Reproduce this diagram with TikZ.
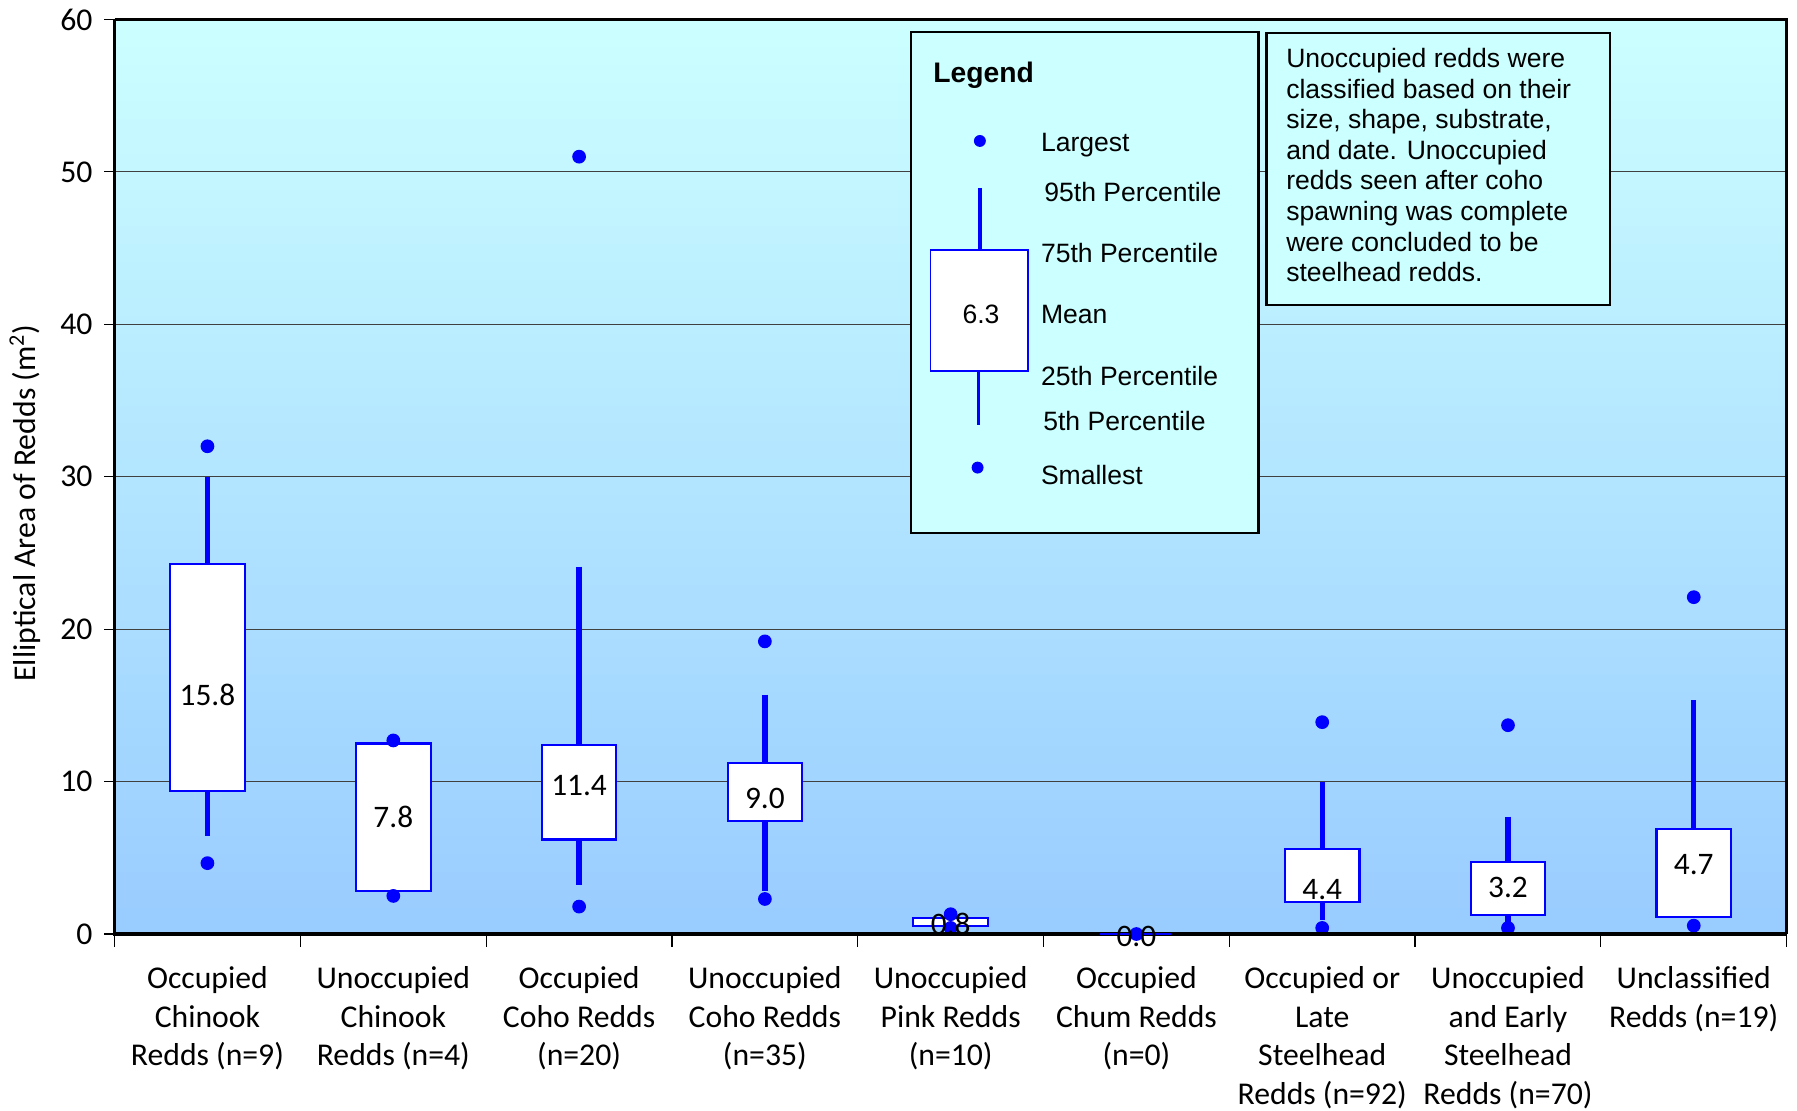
\documentclass[tikz,border=0pt]{standalone}
\usepackage{fontspec}
\setmainfont{Carlito}
\newfontfamily\arialf{Liberation Sans}
\definecolor{bgtop}{HTML}{CCFFFF}
\definecolor{bgbot}{HTML}{99CCFF}
\definecolor{pblue}{HTML}{0000FF}
\newcommand\bplot[8]{%
  \coordinate (#1-hi) at (#2,{815-13.3*#4});
  \coordinate (#1-top) at (#2,{815-13.3*#5});
  \coordinate (#1-bot) at (#2,{815-13.3*#6});
  \coordinate (#1-lo) at (#2,{815-13.3*#7});
  \draw[whisk] (#1-hi) -- (#1-top);
  \draw[whisk] (#1-bot) -- (#1-lo);
  \draw[qbox] ({#2-32.5},{815-13.3*#5}) rectangle ({#2+32.5},{815-13.3*#6});
  \fill[pblue] (#2,{815-13.3*#3}) circle[radius=6];
  \fill[pblue] (#2,{815-13.3*#8}) circle[radius=6];
}
\begin{document}
\begin{tikzpicture}[x=0.6pt,y=-0.6pt,
  whisk/.style={draw=pblue,line width=2.8pt},
  qbox/.style={draw=pblue,line width=1.1pt,fill=white},
  gridln/.style={draw=black!75,line width=0.6pt},
  tickln/.style={draw=black,line width=0.6pt},
  axlab/.style={font=\fontsize{16.6}{20.2}\selectfont,inner sep=0pt},
  catlab/.style={font=\fontsize{16.6}{20.2}\selectfont,align=center,anchor=north,inner sep=0pt},
  vallab/.style={font=\fontsize{16.4}{20}\selectfont,inner sep=0pt},
  legtxt/.style={font=\arialf\fontsize{13.9}{16}\selectfont,anchor=base west,inner sep=0pt}]
\useasboundingbox (0,0) rectangle (1568,969);
% plot background
\shade[top color=bgtop,bottom color=bgbot] (100,17) rectangle (1559,815);
% grid lines and y ticks
\foreach \v in {10,20,30,40,50} {
  \draw[gridln] (100,{815-13.3*\v}) -- (1559,{815-13.3*\v});
}
\foreach \v in {0,10,20,30,40,50,60} {
  \draw[tickln] (91,{815-13.3*\v}) -- (100,{815-13.3*\v});
  \node[axlab,anchor=east] (yt\v) at (81,{815-13.3*\v}) {\v};
}
% x ticks
\foreach \k in {0,...,9} {
  \draw[tickln] ({100+162.1*\k},815) -- ({100+162.1*\k},826);
}
% legend box
\draw[black,line width=1.2pt,fill=bgtop] (795,28) rectangle (1098,465);
\node[font=\arialf\bfseries\fontsize{14.8}{17}\selectfont,anchor=base west,inner sep=0pt] (legtitle) at (814,72) {Legend};
\fill[pblue] (855,123) circle[radius=5.2];
\coordinate (lw1) at (855,164);
\coordinate (lw2) at (855,218);
\draw[draw=pblue,line width=1.7pt] (lw1) -- (lw2);
\draw[draw=pblue,line width=0.9pt,fill=white] (812,218) rectangle (897,324);
\node[font=\arialf\fontsize{13.9}{16}\selectfont,inner sep=0pt] (legmean) at (856,274) {6.3};
\coordinate (lw3) at (854,324);
\coordinate (lw4) at (854,371);
\draw[draw=pblue,line width=1.7pt] (lw3) -- (lw4);
\fill[pblue] (853,408) circle[radius=5.2];
\node[legtxt] (l1) at (908,132) {Largest};
\node[legtxt] (l2) at (911,176) {95th Percentile};
\node[legtxt] (l3) at (908,229) {75th Percentile};
\node[legtxt] (l4) at (908,282) {Mean};
\node[legtxt] (l5) at (908,336) {25th Percentile};
\node[legtxt] (l6) at (910,376) {5th Percentile};
\node[legtxt] (l7) at (908,423) {Smallest};
% note box
\draw[black,line width=1.2pt,fill=bgtop] (1105,29) rectangle (1405,266);
\node[font=\arialf\fontsize{13.9}{16}\selectfont,align=left,anchor=north west,inner sep=0pt] (note) at (1122,42)
  {Unoccupied redds were\\classified based on their\\size, shape, substrate,\\and date. Unoccupied\\redds seen after coho\\spawning was complete\\were concluded to be\\steelhead redds.};
% box plots
\bplot{c1}{181}{32.0}{30.0}{24.3}{9.4}{6.4}{4.65}
\bplot{c2}{343.2}{12.7}{12.5}{12.5}{2.85}{2.85}{2.5}
\bplot{c3}{505.3}{51.0}{24.1}{12.4}{6.2}{3.2}{1.8}
\bplot{c4}{667.4}{19.2}{15.7}{11.2}{7.4}{2.8}{2.3}
\bplot{c5}{829.5}{1.3}{1.05}{1.05}{0.55}{0.55}{0.4}
\bplot{c7}{1153.7}{13.9}{10.0}{5.6}{2.1}{0.9}{0.4}
\bplot{c8}{1315.8}{13.7}{7.7}{4.7}{1.25}{0.8}{0.4}
\bplot{c9}{1477.9}{22.1}{15.35}{6.9}{1.1}{1.1}{0.55}
% value labels
\node[vallab] (m1) at (181,606) {15.8};
\node[vallab] (m2) at (343.2,713) {7.8};
\node[vallab] (m3) at (505.3,685) {11.4};
\node[vallab] (m4) at (667.4,697) {9.0};
\node[vallab] (m5) at (829.5,806) {0.8};
\node[vallab] (m7) at (1153.7,776) {4.4};
\node[vallab] (m8) at (1315.8,774) {3.2};
\node[vallab] (m9) at (1477.9,754) {4.7};
% frame
\draw[black,line width=1.3pt] (100,17) -- (1559,17) -- (1559,815);
\draw[black,line width=1.8pt] (100,17) -- (100,815) -- (1559,815);
% chum (all zero)
\coordinate (c6-l) at (960,815);
\coordinate (c6-r) at (1022,815);
\draw[draw=pblue,line width=1.4pt] (c6-l) -- (c6-r);
\fill[pblue] (991.6,815) circle[radius=6];
\node[vallab] (m6) at (991.6,817) {0.0};
% axis title
\node[axlab,rotate=90] (ytitle) at (22,439) {Elliptical Area of Redds (m\textsuperscript{2})};
% category labels
\node[catlab] (k1) at (181,843) {Occupied\\Chinook\\Redds (n=9)};
\node[catlab] (k2) at (343.2,843) {Unoccupied\\Chinook\\Redds (n=4)};
\node[catlab] (k3) at (505.3,843) {Occupied\\Coho Redds\\(n=20)};
\node[catlab] (k4) at (667.4,843) {Unoccupied\\Coho Redds\\(n=35)};
\node[catlab] (k5) at (829.5,843) {Unoccupied\\Pink Redds\\(n=10)};
\node[catlab] (k6) at (991.6,843) {Occupied\\Chum Redds\\(n=0)};
\node[catlab] (k7) at (1153.7,843) {Occupied or\\Late\\Steelhead\\Redds (n=92)};
\node[catlab] (k8) at (1315.8,843) {Unoccupied\\and Early\\Steelhead\\Redds (n=70)};
\node[catlab] (k9) at (1477.9,843) {Unclassified\\Redds (n=19)};
\end{tikzpicture}
\end{document}
